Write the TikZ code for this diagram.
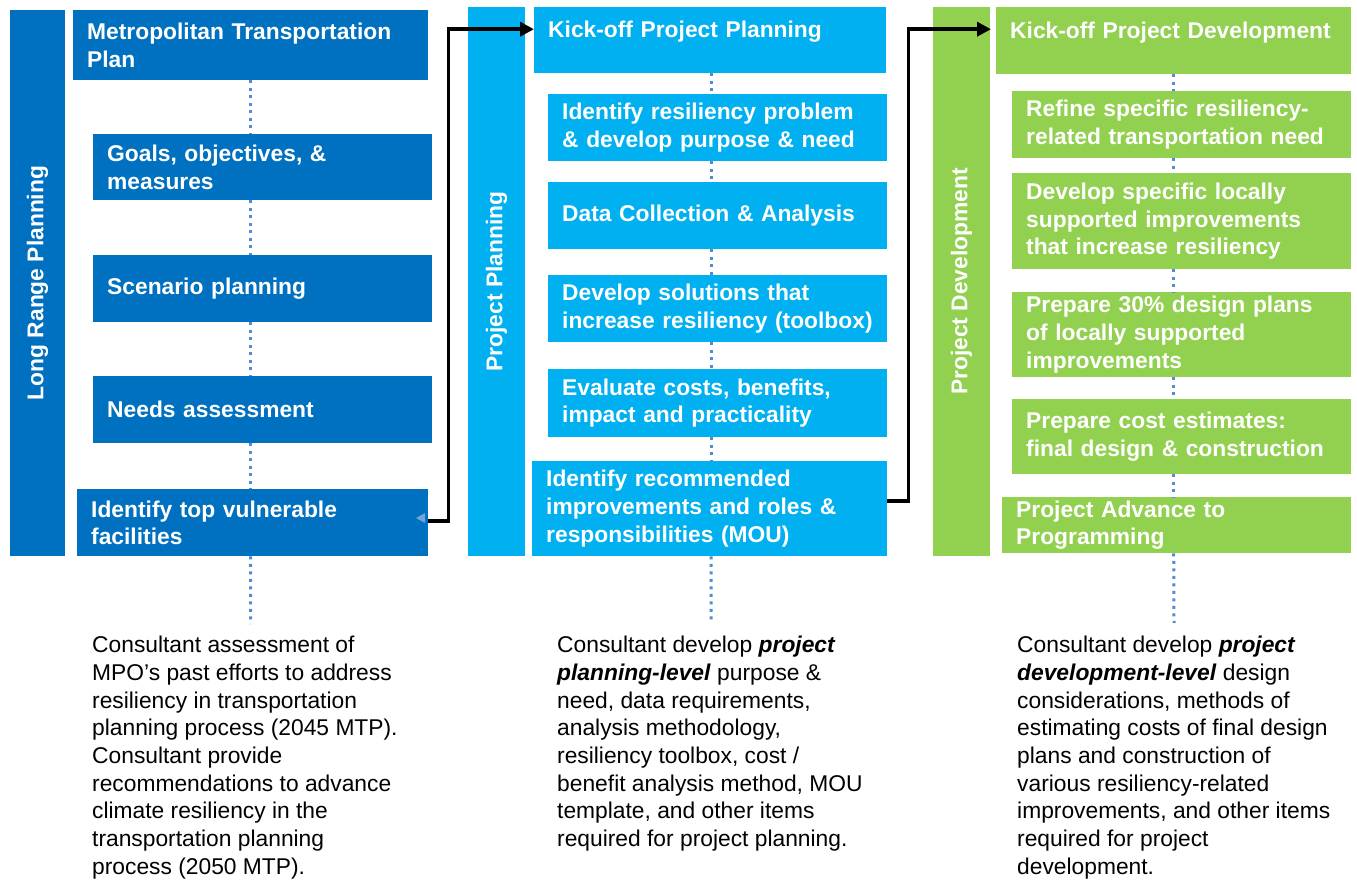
\documentclass[tikz,border=0pt]{standalone}
\usepackage{fontspec}
\setmainfont{Liberation Sans}
\usetikzlibrary{arrows.meta,calc}
\definecolor{dblue}{HTML}{0070C0}
\definecolor{lblue}{HTML}{00B0F0}
\definecolor{lgreen}{HTML}{92D050}
\definecolor{dotc}{RGB}{80,140,210}
\newcommand\nb[1]{\mbox{#1}}
\begin{document}
\begin{tikzpicture}[x=1pt,y=-1pt,
  box/.style={anchor=north west, inner xsep=14pt, inner ysep=0pt, align=left,
    text=white, font=\fontsize{22.8}{27.7}\selectfont\bfseries},
  bar/.style={rotate=90, inner sep=0pt, text=white,
    font=\fontsize{22.8}{27.7}\selectfont\bfseries},
  note/.style={anchor=north west, inner sep=0pt, align=left, text=black,
    font=\fontsize{22.8}{27.7}\selectfont},
  dotl/.style={draw=dotc, line width=3pt, dash pattern=on 3pt off 4.5pt},
  conn/.style={draw=black, line width=3.6pt, -{Triangle[length=14pt,width=14pt]}}
]
\useasboundingbox (0,0) rectangle (1357,879);

% side bars
\node[bar, fill=dblue, minimum width=546pt, minimum height=55pt] (lrp) at (37.5,283) {Long Range Planning};
\node[bar, fill=lblue, minimum width=549pt, minimum height=57pt] (pp) at (496.5,281.5) {Project Planning};
\node[bar, fill=lgreen, minimum width=549pt, minimum height=57pt] (pd) at (961.5,281.5) {Project Development};

% column 1
\node[box, fill=dblue, minimum width=355pt, text width=327pt, minimum height=70pt] (mtp) at (73,10) {\nb{Metropolitan Transportation}\\\nb{Plan}};
\node[box, fill=dblue, minimum width=339pt, text width=311pt, minimum height=66pt] (goals) at (93,134) {\nb{Goals, objectives, \&}\\\nb{measures}};
\node[box, fill=dblue, minimum width=339pt, text width=311pt, minimum height=67pt] (scen) at (93,255) {\nb{Scenario planning}};
\node[box, fill=dblue, minimum width=339pt, text width=311pt, minimum height=67pt] (needs) at (93,376) {\nb{Needs assessment}};
\node[box, fill=dblue, minimum width=351pt, text width=323pt, minimum height=67pt] (ident1) at (77,489) {\nb{Identify top vulnerable}\\\nb{facilities}};

% column 2
\node[box, fill=lblue, minimum width=352pt, text width=324pt, minimum height=66pt, text depth=21pt] (kick1) at (534,7) {\nb{Kick-off Project Planning}};
\node[box, fill=lblue, minimum width=339pt, text width=311pt, minimum height=67pt] (c2a) at (548,94) {\nb{Identify resiliency problem}\\\nb{\& develop purpose \& need}};
\node[box, fill=lblue, minimum width=339pt, text width=311pt, minimum height=67pt] (c2b) at (548,182) {\nb{Data Collection \& Analysis}};
\node[box, fill=lblue, minimum width=339pt, text width=311pt, minimum height=67pt] (c2c) at (548,275) {\nb{Develop solutions that}\\\nb{increase resiliency (toolbox)}};
\node[box, fill=lblue, minimum width=339pt, text width=311pt, minimum height=68pt] (c2d) at (548,369) {\nb{Evaluate costs, benefits,}\\\nb{impact and practicality}};
\node[box, fill=lblue, minimum width=355pt, text width=327pt, minimum height=95pt] (ident2) at (532,461) {\nb{Identify recommended}\\\nb{improvements and roles \&}\\\nb{responsibilities (MOU)}};

% column 3
\node[box, fill=lgreen, minimum width=355pt, text width=327pt, minimum height=67pt, text depth=21pt] (kick2) at (996,7) {\nb{Kick-off Project Development}};
\node[box, fill=lgreen, minimum width=339pt, text width=311pt, minimum height=67pt] (c3a) at (1012,91) {\nb{Refine specific resiliency-}\\\nb{related transportation need}};
\node[box, fill=lgreen, minimum width=339pt, text width=311pt, minimum height=96pt] (c3b) at (1012,173) {\nb{Develop specific locally}\\\nb{supported improvements}\\\nb{that increase resiliency}};
\node[box, fill=lgreen, minimum width=339pt, text width=311pt, minimum height=85pt] (c3c) at (1012,292) {\nb{Prepare 30\% design plans}\\\nb{of locally supported}\\\nb{improvements}};
\node[box, fill=lgreen, minimum width=339pt, text width=311pt, minimum height=75pt] (c3d) at (1012,399) {\nb{Prepare cost estimates:}\\\nb{final design \& construction}};
\node[box, fill=lgreen, minimum width=349pt, text width=321pt, minimum height=56pt] (c3e) at (1002,497) {\nb{Project Advance to}\\\nb{Programming}};

% notes
\node[note] (n1) at (92,636) {Consultant assessment of\\MPO’s past efforts to address\\resiliency in transportation\\planning process (2045 MTP).\\Consultant provide\\recommendations to advance\\climate resiliency in the\\transportation planning\\process (2050 MTP).};
\node[note] (n2) at (557,636) {Consultant develop \textbf{\textit{project}}\\\textbf{\textit{planning-level}} purpose \&\\need, data requirements,\\analysis methodology,\\resiliency toolbox, cost /\\benefit analysis method, MOU\\template, and other items\\required for project planning.};
\node[note] (n3) at (1017,636) {Consultant develop \textbf{\textit{project}}\\\textbf{\textit{development-level}} design\\considerations, methods of\\estimating costs of final design\\plans and construction of\\various resiliency-related\\improvements, and other items\\required for project\\development.};

\coordinate (e1) at (250.5,624);
\coordinate (e2) at (711,623);
\coordinate (e3) at (1174,623);

% dotted links
\draw[dotl] (mtp.south) -- (mtp.south |- goals.north);
\draw[dotl] (mtp.south |- goals.south) -- (mtp.south |- scen.north);
\draw[dotl] (mtp.south |- scen.south) -- (mtp.south |- needs.north);
\draw[dotl] (mtp.south |- needs.south) -- (mtp.south |- ident1.north);
\draw[dotl] (mtp.south |- ident1.south) -- (e1);

\draw[dotl] ([xshift=1pt]kick1.south) -- ([xshift=1pt]kick1.south |- c2a.north);
\draw[dotl] ([xshift=1pt]kick1.south |- c2a.south) -- ([xshift=1pt]kick1.south |- c2b.north);
\draw[dotl] ([xshift=1pt]kick1.south |- c2b.south) -- ([xshift=1pt]kick1.south |- c2c.north);
\draw[dotl] ([xshift=1pt]kick1.south |- c2c.south) -- ([xshift=1pt]kick1.south |- c2d.north);
\draw[dotl] ([xshift=1pt]kick1.south |- c2d.south) -- ([xshift=1pt]kick1.south |- ident2.north);
\draw[dotl] ([xshift=1pt]kick1.south |- ident2.south) -- (e2);

\draw[dotl] (kick2.south) -- (kick2.south |- c3a.north);
\draw[dotl] (kick2.south |- c3a.south) -- (kick2.south |- c3b.north);
\draw[dotl] (kick2.south |- c3b.south) -- (kick2.south |- c3c.north);
\draw[dotl] (kick2.south |- c3c.south) -- (kick2.south |- c3d.north);
\draw[dotl] (kick2.south |- c3d.south) -- (kick2.south |- c3e.north);
\draw[dotl] (kick2.south |- c3e.south) -- (e3);

% small leftover triangle
\fill[dotc!80] (416,518) -- (425,513) -- (425,523) -- cycle;

% connectors
\draw[conn] ([yshift=1.5pt]ident1.east) -- ++(20,0) |- ([yshift=11pt]kick1.west);
\draw[conn, shorten >=5pt] ([yshift=8pt]ident2.east) -- ++(21,0) |- ([yshift=11.5pt]kick2.west);
\end{tikzpicture}
\end{document}
